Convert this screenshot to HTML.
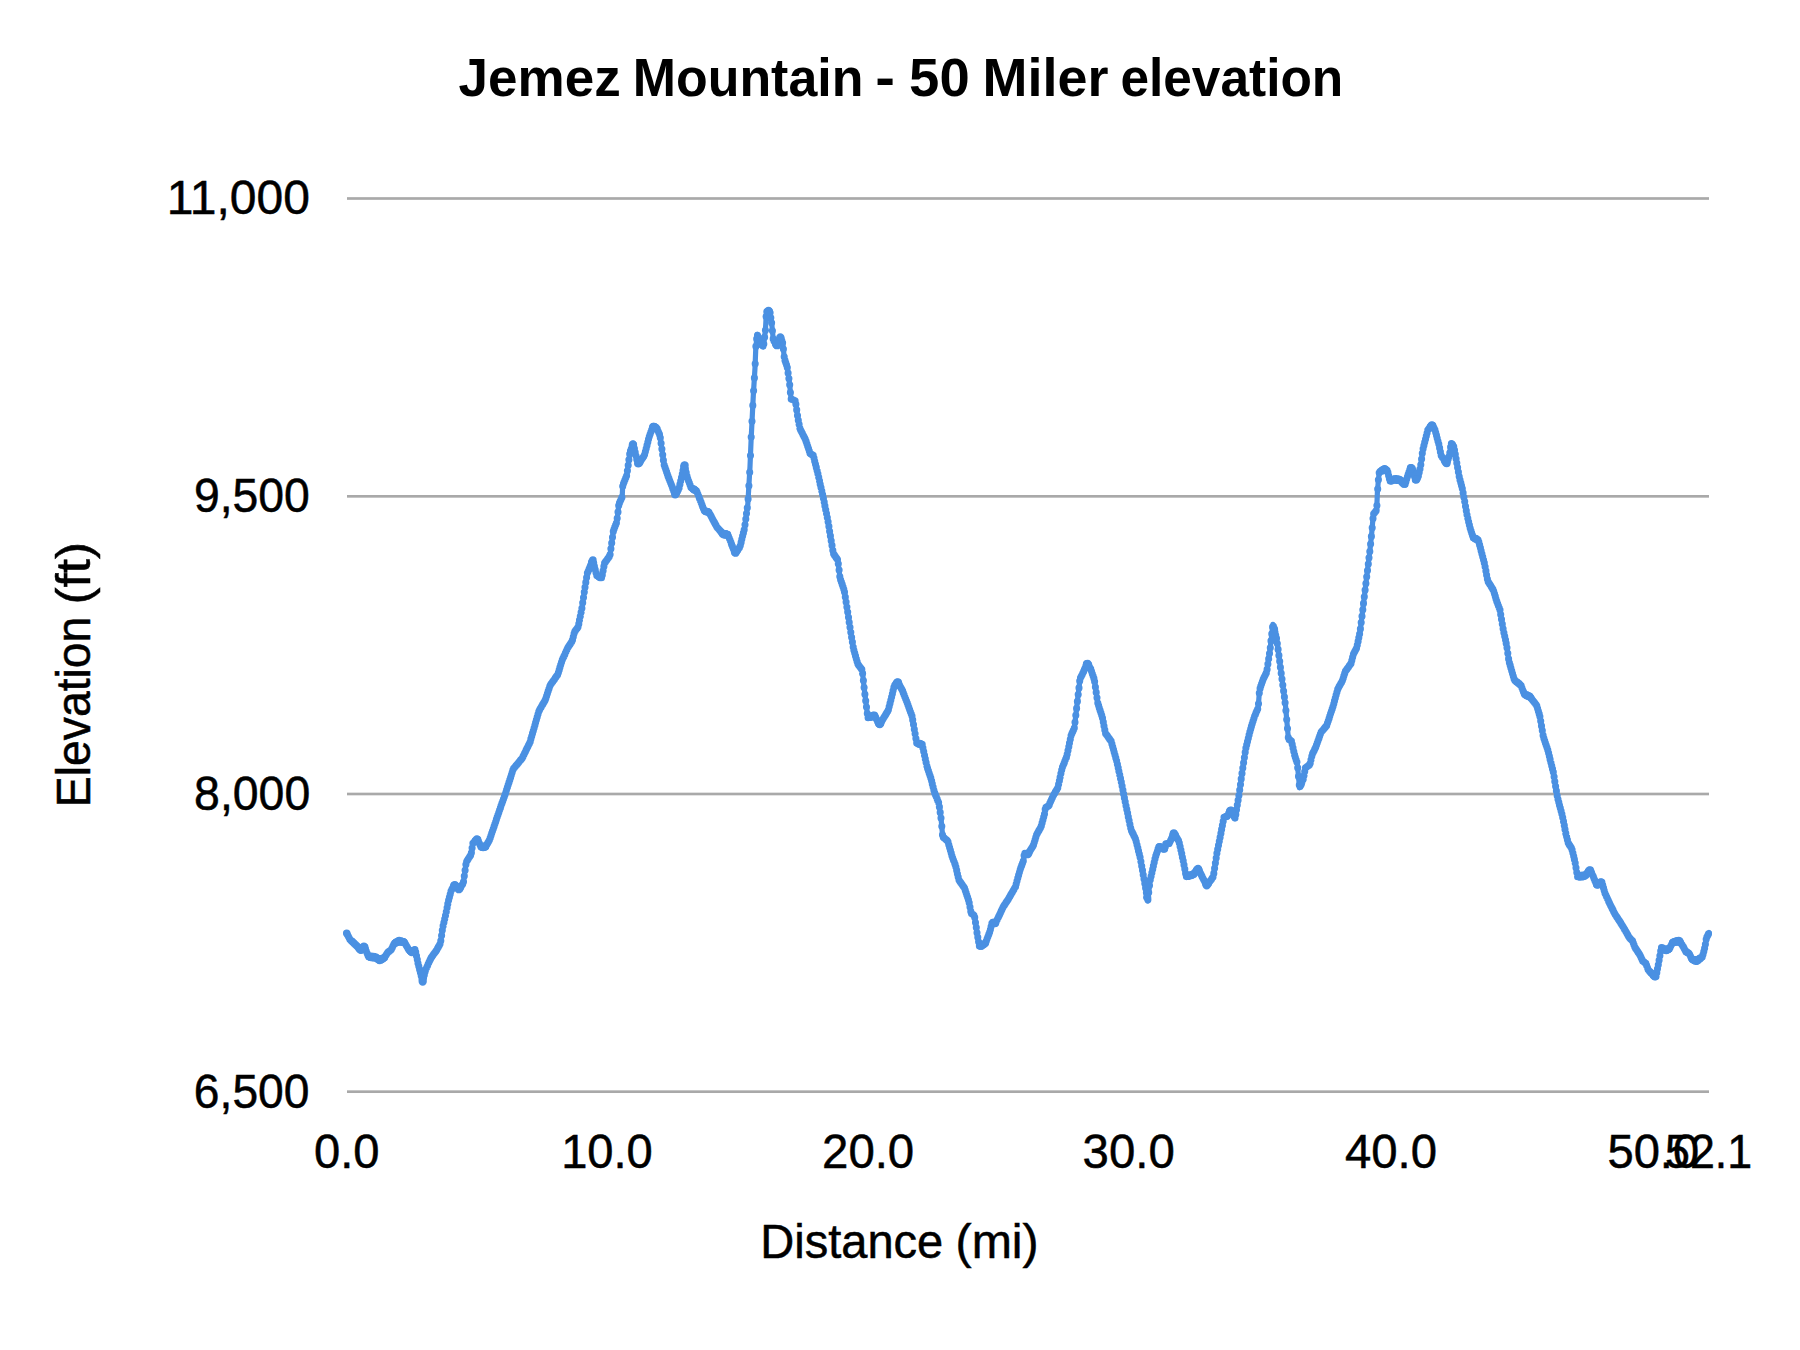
<!DOCTYPE html>
<html lang="en"><head><meta charset="utf-8"><title>Jemez Mountain - 50 Miler elevation</title>
<style>
html,body{margin:0;padding:0;background:#fff;}
body{width:1800px;height:1350px;overflow:hidden;}
svg{display:block;}
text{font-family:'Liberation Sans', Arial, sans-serif;fill:#000;font-size:47.2px;stroke:#000;stroke-width:0.5px;}
.title{font-size:54px;font-weight:bold;stroke:none;}
</style></head><body>
<svg width="1800" height="1350" viewBox="0 0 1800 1350">
<rect width="1800" height="1350" fill="#fff"/>
<text class="title" xml:space="preserve"><tspan x="458.52" y="95.8" textLength="162.29" lengthAdjust="spacingAndGlyphs">Jemez</tspan> <tspan x="632.83" y="95.8" textLength="230.52" lengthAdjust="spacingAndGlyphs">Mountain</tspan> <tspan x="875.21" y="95.8" textLength="19.70" lengthAdjust="spacingAndGlyphs">-</tspan> <tspan x="909.14" y="95.8" textLength="60.57" lengthAdjust="spacingAndGlyphs">50</tspan> <tspan x="982.55" y="95.8" textLength="125.87" lengthAdjust="spacingAndGlyphs">Miler</tspan> <tspan x="1120.40" y="95.8" textLength="222.82" lengthAdjust="spacingAndGlyphs">elevation</tspan></text>
<rect x="347" y="197.16" width="1362" height="2.67" fill="#a9a9a9"/>
<rect x="347" y="495.00" width="1362" height="2.67" fill="#a9a9a9"/>
<rect x="347" y="792.66" width="1362" height="2.67" fill="#a9a9a9"/>
<rect x="347" y="1090.34" width="1362" height="2.67" fill="#a9a9a9"/>
<text><tspan x="166.68" y="214.4" textLength="143.23" lengthAdjust="spacingAndGlyphs">11,000</tspan></text>
<text><tspan x="194.02" y="512.2" textLength="115.86" lengthAdjust="spacingAndGlyphs">9,500</tspan></text>
<text><tspan x="194.11" y="809.9" textLength="116.12" lengthAdjust="spacingAndGlyphs">8,000</tspan></text>
<text><tspan x="193.87" y="1107.6" textLength="115.58" lengthAdjust="spacingAndGlyphs">6,500</tspan></text>
<text><tspan x="313.93" y="1168.4" textLength="65.57" lengthAdjust="spacingAndGlyphs">0.0</tspan></text>
<text><tspan x="561.13" y="1168.4" textLength="91.65" lengthAdjust="spacingAndGlyphs">10.0</tspan></text>
<text><tspan x="822.06" y="1168.4" textLength="92.16" lengthAdjust="spacingAndGlyphs">20.0</tspan></text>
<text><tspan x="1082.61" y="1168.4" textLength="92.13" lengthAdjust="spacingAndGlyphs">30.0</tspan></text>
<text><tspan x="1345.03" y="1168.4" textLength="91.98" lengthAdjust="spacingAndGlyphs">40.0</tspan></text>
<text><tspan x="1607.42" y="1168.4" textLength="91.76" lengthAdjust="spacingAndGlyphs">50.0</tspan></text>
<text><tspan x="1665.04" y="1168.4" textLength="87.13" lengthAdjust="spacingAndGlyphs">52.1</tspan></text>
<text xml:space="preserve"><tspan x="760.30" y="1258.4" textLength="182.97" lengthAdjust="spacingAndGlyphs">Distance</tspan> <tspan x="955.60" y="1258.4" textLength="83.05" lengthAdjust="spacingAndGlyphs">(mi)</tspan></text>
<text xml:space="preserve" transform="translate(89.8,903.6) rotate(-90)"><tspan x="96.45" y="0" textLength="190.44" lengthAdjust="spacingAndGlyphs">Elevation</tspan> <tspan x="299.12" y="0" textLength="62.50" lengthAdjust="spacingAndGlyphs">(ft)</tspan></text>
<polyline points="346.7,933.3 350.0,939.5 361.1,950.0 364.4,946.2 368.4,956.7 375.5,957.3 379.5,960.0 384.4,957.8 387.8,952.2 391.0,950.0 394.4,943.3 398.9,941.1 404.4,942.2 408.9,950.0 412.2,952.2 415.1,949.3 417.8,962.2 422.7,981.8 425.5,970.0 431.1,957.8 436.7,950.0 440.4,943.3 442.7,927.8 445.5,915.5 448.4,901.1 451.1,890.7 454.4,884.9 458.9,889.3 463.3,883.3 466.2,862.2 471.1,854.4 472.9,843.3 477.3,838.9 481.1,847.1 485.5,846.7 489.3,840.4 494.4,825.5 500.0,808.9 505.5,793.3 513.3,768.9 522.2,758.2 530.0,742.2 538.9,711.1 545.5,699.5 550.0,685.5 557.8,674.4 562.2,660.0 567.8,647.8 572.2,641.1 574.4,632.2 578.2,626.7 581.8,608.9 584.4,591.1 587.3,573.3 592.9,560.0 596.7,575.5 601.8,577.8 604.4,563.3 610.0,555.5 613.3,531.1 616.7,522.2 618.9,504.4 622.2,496.7 622.7,485.5 626.7,475.5 630.0,452.2 633.3,443.3 637.8,464.4 644.4,455.5 648.9,437.8 652.8,426.4 656.7,427.8 660.0,435.5 664.0,464.4 667.8,475.5 675.1,494.6 678.9,488.9 684.4,464.4 687.1,476.7 691.1,487.8 696.7,491.1 704.4,511.1 708.9,512.2 716.7,526.7 723.3,534.4 727.8,534.4 735.1,553.3 740.0,546.7 744.4,528.9 747.8,504.4 750.0,466.7 751.1,440.0 752.2,417.8 753.3,395.5 755.0,367.8 755.8,347.8 757.2,334.4 760.0,342.2 763.5,346.7 765.5,328.9 766.4,311.6 769.8,311.0 771.7,323.3 773.3,340.0 777.2,345.5 780.5,336.7 782.8,343.3 784.4,358.9 787.2,366.7 789.4,382.2 791.1,398.9 795.5,401.1 797.8,417.8 800.0,428.9 805.5,439.5 810.0,453.3 813.3,455.5 817.8,473.3 823.3,497.8 827.8,520.0 833.3,553.3 837.8,560.0 840.0,577.8 844.4,591.1 848.9,620.0 853.3,648.0 857.8,664.0 862.2,670.0 864.4,690.0 867.8,717.8 874.4,715.5 879.5,724.4 884.4,716.7 888.4,710.0 894.4,685.5 897.8,682.2 902.2,690.0 907.8,704.4 912.2,716.7 916.7,743.3 922.2,744.4 926.7,765.5 931.1,778.9 934.4,792.2 938.9,803.3 941.1,818.9 942.7,836.7 947.8,841.1 952.2,856.7 955.5,865.5 958.9,880.0 964.4,887.8 968.9,901.1 971.1,913.3 974.4,915.5 977.3,934.4 979.5,946.7 985.5,943.3 990.0,931.1 992.2,922.2 995.5,923.3 1003.3,906.7 1007.8,900.0 1015.5,886.7 1020.0,870.0 1023.3,861.1 1024.4,853.3 1027.8,854.4 1033.3,845.5 1036.7,834.4 1041.1,826.7 1044.4,814.4 1045.5,807.8 1048.9,805.5 1053.3,795.5 1057.8,787.8 1062.2,767.8 1066.7,756.7 1071.1,735.5 1074.4,727.8 1077.8,697.8 1080.0,678.9 1083.3,672.2 1087.1,663.3 1090.7,668.9 1094.4,680.0 1097.8,703.3 1102.2,716.7 1105.5,733.3 1111.1,741.1 1116.7,761.1 1121.1,781.1 1125.5,803.3 1131.1,830.0 1135.5,838.9 1140.0,856.7 1144.4,881.1 1147.8,901.1 1150.0,881.1 1155.5,856.7 1158.9,846.7 1164.4,848.9 1166.0,844.0 1169.3,843.4 1173.8,833.3 1178.9,841.1 1183.3,861.1 1186.2,876.7 1193.3,874.4 1198.2,868.9 1203.3,878.9 1206.7,885.5 1213.3,876.7 1216.7,854.4 1221.1,832.2 1224.0,817.3 1227.6,816.0 1229.8,810.6 1232.3,811.0 1235.1,818.4 1238.9,795.5 1242.2,772.2 1245.5,750.0 1250.0,731.1 1254.4,716.7 1258.2,707.8 1259.5,690.0 1263.3,678.9 1266.7,672.2 1270.0,650.0 1272.9,624.4 1276.7,638.9 1281.1,672.2 1285.5,705.5 1288.4,738.9 1291.5,741.1 1294.4,754.4 1297.3,763.3 1299.5,787.8 1303.3,778.9 1305.5,767.8 1310.0,764.4 1312.2,754.4 1315.5,747.8 1321.1,732.2 1326.7,725.5 1333.3,705.5 1337.8,688.9 1342.2,681.1 1345.5,671.1 1351.1,663.3 1353.3,654.4 1356.7,647.8 1360.0,632.2 1363.3,605.5 1366.7,576.7 1370.0,550.0 1371.7,533.3 1373.3,514.4 1376.7,510.0 1377.4,492.2 1378.3,481.1 1379.3,472.0 1384.6,469.2 1387.4,470.6 1390.0,481.1 1394.4,479.4 1400.0,480.0 1405.0,484.5 1407.8,475.5 1410.5,467.8 1412.6,468.8 1415.5,480.5 1418.3,476.7 1420.5,466.7 1422.8,450.0 1425.0,441.1 1427.8,430.0 1432.2,425.0 1435.0,430.0 1438.9,444.4 1441.1,455.5 1444.4,460.0 1446.7,463.3 1449.4,455.5 1451.1,443.3 1453.9,446.7 1456.7,462.2 1459.4,477.8 1462.2,487.8 1464.4,500.0 1466.7,513.3 1470.0,527.8 1473.3,537.8 1478.3,540.0 1480.8,549.5 1484.4,563.3 1487.8,581.1 1493.3,590.0 1496.7,601.1 1500.0,610.0 1503.3,630.0 1506.7,645.5 1508.9,661.1 1514.4,680.0 1521.1,685.5 1524.4,694.4 1530.0,696.7 1536.7,705.5 1540.0,716.7 1543.3,736.7 1547.8,750.0 1553.3,772.2 1557.5,797.5 1562.3,815.5 1565.8,833.3 1568.3,843.3 1571.7,848.3 1575.0,861.7 1577.5,876.7 1585.0,875.8 1590.0,870.0 1593.3,876.7 1596.7,885.0 1601.7,881.7 1605.0,893.3 1610.0,904.2 1615.0,914.2 1620.0,921.7 1625.0,930.0 1629.2,937.5 1632.5,940.8 1635.0,947.5 1640.0,955.0 1642.5,960.8 1645.8,963.3 1648.3,970.0 1655.8,977.5 1658.3,965.0 1661.3,947.5 1665.0,950.0 1669.2,949.2 1672.5,942.5 1679.2,940.8 1683.3,946.7 1685.8,951.7 1689.2,953.3 1691.7,959.2 1696.7,960.8 1702.5,956.7 1705.0,946.7 1706.3,938.3 1709.2,932.5" fill="none" stroke="#4a90e2" stroke-width="5.2" stroke-linejoin="round" stroke-linecap="round"/>
<path d="M347.5,934.8h0M348.3,936.2h0M349.1,937.7h0M349.8,939.2h0M350.6,940.1h0M351.4,940.8h0M365.5,949.1h0M366.3,951.2h0M367.1,953.2h0M367.9,955.3h0M368.7,956.7h0M385.1,956.6h0M385.9,955.3h0M386.7,954.0h0M387.5,952.7h0M388.3,951.9h0M389.0,951.4h0M389.8,950.8h0M390.6,950.3h0M391.4,949.2h0M392.2,947.7h0M393.0,946.1h0M393.7,944.6h0M394.5,943.2h0M404.7,942.7h0M405.5,944.1h0M406.3,945.5h0M407.1,946.8h0M407.9,948.2h0M408.6,949.5h0M409.4,950.3h0M414.9,949.5h0M415.7,952.1h0M416.5,955.9h0M417.3,959.6h0M418.0,963.2h0M418.8,966.3h0M419.6,969.4h0M420.4,972.6h0M421.2,975.7h0M422.0,978.9h0M423.5,978.3h0M424.3,975.0h0M425.1,971.7h0M425.9,969.2h0M426.7,967.5h0M427.5,965.7h0M428.2,964.0h0M429.0,962.3h0M429.8,960.6h0M430.6,958.9h0M431.4,957.4h0M432.2,956.3h0M432.9,955.2h0M433.7,954.1h0M434.5,953.1h0M435.3,952.0h0M436.1,950.9h0M436.9,949.7h0M437.6,948.3h0M438.4,946.9h0M439.2,945.5h0M440.0,944.0h0M440.8,940.7h0M441.6,935.5h0M442.3,930.2h0M443.1,925.9h0M443.9,922.5h0M444.7,919.0h0M445.5,915.6h0M446.3,911.7h0M447.1,907.8h0M447.8,903.9h0M448.6,900.3h0M449.4,897.2h0M450.2,894.2h0M451.0,891.2h0M451.8,889.5h0M452.5,888.2h0M453.3,886.8h0M461.2,886.2h0M461.9,885.1h0M462.7,884.1h0M463.5,881.7h0M464.3,876.0h0M465.1,870.3h0M465.9,864.6h0M466.7,861.5h0M467.4,860.2h0M468.2,859.0h0M469.0,857.7h0M469.8,856.5h0M470.6,855.2h0M471.4,852.8h0M472.1,848.0h0M472.9,843.3h0M473.7,842.5h0M474.5,841.7h0M478.4,841.3h0M479.2,843.0h0M480.0,844.7h0M480.8,846.4h0M486.3,845.5h0M487.0,844.2h0M487.8,842.9h0M488.6,841.6h0M489.4,840.1h0M490.2,837.9h0M491.0,835.6h0M491.7,833.3h0M492.5,831.0h0M493.3,828.7h0M494.1,826.4h0M494.9,824.1h0M495.7,821.8h0M496.4,819.4h0M497.2,817.1h0M498.0,814.8h0M498.8,812.5h0M499.6,810.1h0M500.4,807.9h0M501.1,805.6h0M501.9,803.4h0M502.7,801.2h0M503.5,799.0h0M504.3,796.7h0M505.1,794.5h0M505.9,792.2h0M506.6,789.7h0M507.4,787.3h0M508.2,784.8h0M509.0,782.4h0M509.8,779.9h0M510.6,777.5h0M511.3,775.0h0M512.1,772.6h0M512.9,770.1h0M513.7,768.4h0M514.5,767.5h0M515.3,766.5h0M516.0,765.6h0M516.8,764.7h0M517.6,763.7h0M518.4,762.8h0M519.2,761.8h0M520.0,760.9h0M520.7,759.9h0M521.5,759.0h0M522.3,758.0h0M523.1,756.4h0M523.9,754.7h0M524.7,753.1h0M525.5,751.5h0M526.2,749.9h0M527.0,748.3h0M527.8,746.7h0M528.6,745.1h0M529.4,743.5h0M530.2,741.7h0M530.9,738.9h0M531.7,736.2h0M532.5,733.4h0M533.3,730.7h0M534.1,728.0h0M534.9,725.2h0M535.6,722.5h0M536.4,719.7h0M537.2,717.0h0M538.0,714.3h0M538.8,711.5h0M539.6,709.9h0M540.3,708.6h0M541.1,707.2h0M541.9,705.8h0M542.7,704.4h0M543.5,703.0h0M544.3,701.7h0M545.1,700.3h0M545.8,698.5h0M546.6,696.0h0M547.4,693.6h0M548.2,691.1h0M549.0,688.7h0M549.8,686.3h0M550.5,684.7h0M551.3,683.6h0M552.1,682.5h0M552.9,681.4h0M553.7,680.3h0M554.5,679.2h0M555.2,678.0h0M556.0,676.9h0M556.8,675.8h0M557.6,674.7h0M558.4,672.5h0M559.2,669.9h0M559.9,667.4h0M560.7,664.8h0M561.5,662.2h0M562.3,659.8h0M563.1,658.1h0M563.9,656.4h0M564.7,654.7h0M565.4,653.0h0M566.2,651.2h0M567.0,649.5h0M567.8,647.8h0M568.6,646.6h0M569.4,645.4h0M570.1,644.2h0M570.9,643.0h0M571.7,641.8h0M572.5,639.9h0M573.3,636.7h0M574.1,633.6h0M574.8,631.6h0M575.6,630.4h0M576.4,629.3h0M577.2,628.2h0M578.0,627.0h0M578.8,623.9h0M579.5,620.0h0M580.3,616.2h0M581.1,612.3h0M581.9,608.2h0M582.7,602.8h0M583.5,597.5h0M584.3,592.1h0M585.0,587.2h0M585.8,582.4h0M586.6,577.6h0M587.4,573.1h0M588.2,571.2h0M589.0,569.4h0M589.7,567.5h0M590.5,565.6h0M591.3,563.8h0M593.7,563.1h0M594.4,566.3h0M595.2,569.5h0M596.0,572.7h0M596.8,575.5h0M597.6,575.9h0M598.4,576.3h0M600.7,577.3h0M601.5,577.7h0M602.3,575.1h0M603.1,570.7h0M603.9,566.4h0M604.6,563.0h0M605.4,561.9h0M606.2,560.8h0M607.0,559.7h0M607.8,558.6h0M608.6,557.5h0M609.3,556.4h0M610.1,554.6h0M610.9,548.8h0M611.7,543.0h0M612.5,537.2h0M613.3,531.4h0M614.0,529.2h0M614.8,527.1h0M615.6,525.0h0M616.4,523.0h0M617.2,518.3h0M618.0,512.0h0M618.7,505.6h0M619.5,502.9h0M620.3,501.1h0M621.1,499.3h0M621.9,497.4h0M622.7,486.2h0M623.5,483.6h0M624.2,481.7h0M625.0,479.7h0M625.8,477.7h0M626.6,475.8h0M627.4,470.8h0M628.2,465.2h0M628.9,459.7h0M629.7,454.1h0M630.5,450.8h0M631.3,448.7h0M632.1,446.6h0M633.6,444.9h0M634.4,448.6h0M635.2,452.3h0M636.0,455.9h0M636.8,459.6h0M637.6,463.3h0M640.7,460.5h0M641.5,459.4h0M642.3,458.4h0M643.1,457.3h0M643.8,456.3h0M644.6,454.6h0M645.4,451.6h0M646.2,448.5h0M647.0,445.4h0M647.8,442.3h0M648.5,439.2h0M649.3,436.6h0M650.1,434.3h0M650.9,432.0h0M651.7,429.7h0M652.5,427.4h0M656.4,427.7h0M657.2,428.9h0M657.9,430.7h0M658.7,432.5h0M659.5,434.4h0M660.3,437.7h0M661.1,443.3h0M661.9,449.0h0M662.7,454.7h0M663.4,460.3h0M664.2,465.0h0M665.0,467.3h0M665.8,469.6h0M666.6,471.9h0M667.4,474.2h0M668.1,476.4h0M668.9,478.4h0M669.7,480.5h0M670.5,482.5h0M671.3,484.6h0M672.1,486.6h0M672.8,488.7h0M673.6,490.7h0M674.4,492.8h0M677.5,490.9h0M678.3,489.8h0M679.1,487.9h0M679.9,484.4h0M680.7,481.0h0M681.5,477.5h0M682.3,474.0h0M683.0,470.5h0M685.4,468.9h0M686.2,472.5h0M687.0,476.0h0M687.7,478.5h0M688.5,480.7h0M689.3,482.8h0M690.1,485.0h0M690.9,487.2h0M691.7,488.1h0M692.4,488.6h0M695.6,490.4h0M696.4,490.9h0M697.1,492.3h0M697.9,494.3h0M698.7,496.3h0M699.5,498.4h0M700.3,500.4h0M701.1,502.4h0M701.9,504.5h0M702.6,506.5h0M703.4,508.6h0M704.2,510.6h0M705.0,511.2h0M708.9,512.2h0M709.7,513.7h0M710.5,515.1h0M711.3,516.6h0M712.0,518.0h0M712.8,519.5h0M713.6,521.0h0M714.4,522.4h0M715.2,523.9h0M716.0,525.3h0M716.7,526.8h0M717.5,527.7h0M718.3,528.6h0M719.1,529.5h0M719.9,530.4h0M720.7,531.3h0M727.7,534.4h0M728.5,536.2h0M729.3,538.3h0M730.1,540.3h0M730.9,542.3h0M731.6,544.4h0M732.4,546.4h0M733.2,548.4h0M734.0,550.4h0M737.9,549.5h0M738.7,548.5h0M739.5,547.4h0M740.3,545.6h0M741.1,542.4h0M741.8,539.3h0M742.6,536.1h0M743.4,532.9h0M744.2,529.8h0M745.0,524.8h0M745.8,519.1h0M746.5,513.5h0M747.3,507.8h0M748.1,499.1h0M748.9,485.7h0M749.7,472.3h0M750.5,455.5h0M751.2,437.1h0M752.0,421.3h0M752.8,405.4h0M753.6,390.7h0M754.4,377.9h0M755.2,363.7h0M755.9,346.4h0M756.7,338.9h0M757.5,335.3h0M759.9,341.8h0M760.7,343.0h0M762.2,345.1h0M763.0,346.1h0M763.8,344.1h0M764.6,337.2h0M765.4,330.2h0M766.1,316.6h0M766.9,311.5h0M767.7,311.4h0M769.3,311.1h0M770.1,312.7h0M770.8,317.8h0M771.6,322.8h0M772.4,330.7h0M773.2,338.9h0M774.0,341.0h0M774.8,342.1h0M775.5,343.2h0M777.9,343.6h0M778.7,341.5h0M781.0,338.2h0M781.8,340.5h0M782.6,342.7h0M783.4,349.0h0M784.2,356.7h0M785.0,360.4h0M785.7,362.6h0M786.5,364.8h0M787.3,367.5h0M788.1,373.0h0M788.9,378.5h0M789.7,384.8h0M790.4,392.5h0M791.2,399.0h0M792.0,399.4h0M792.8,399.7h0M793.6,400.1h0M794.4,400.5h0M795.1,400.9h0M795.9,404.2h0M796.7,409.9h0M797.5,415.6h0M798.3,420.2h0M799.1,424.2h0M799.9,428.2h0M800.6,430.1h0M801.4,431.6h0M802.2,433.1h0M803.0,434.7h0M803.8,436.2h0M804.6,437.7h0M805.3,439.2h0M806.1,441.4h0M806.9,443.8h0M807.7,446.2h0M808.5,448.6h0M809.3,451.0h0M810.0,453.3h0M810.8,453.9h0M811.6,454.4h0M812.4,454.9h0M813.2,455.4h0M814.0,458.1h0M814.7,461.2h0M815.5,464.3h0M816.3,467.4h0M817.1,470.5h0M817.9,473.7h0M818.7,477.2h0M819.5,480.7h0M820.2,484.2h0M821.0,487.6h0M821.8,491.1h0M822.6,494.6h0M823.4,498.2h0M824.2,502.0h0M824.9,505.9h0M825.7,509.8h0M826.5,513.6h0M827.3,517.5h0M828.1,521.7h0M828.9,526.4h0M829.6,531.2h0M830.4,535.9h0M831.2,540.7h0M832.0,545.4h0M832.8,550.2h0M833.6,553.7h0M834.3,554.9h0M835.1,556.0h0M835.9,557.2h0M836.7,558.4h0M837.5,559.5h0M838.3,563.8h0M839.1,570.1h0M839.8,576.5h0M840.6,579.7h0M841.4,582.0h0M842.2,584.4h0M843.0,586.8h0M843.8,589.2h0M844.5,592.0h0M845.3,597.0h0M846.1,602.1h0M846.9,607.1h0M847.7,612.1h0M848.5,617.2h0M849.2,622.2h0M850.0,627.2h0M850.8,632.2h0M851.6,637.2h0M852.4,642.1h0M853.2,647.1h0M853.9,650.3h0M854.7,653.1h0M855.5,655.9h0M856.3,658.7h0M857.1,661.5h0M857.9,664.1h0M858.7,665.2h0M859.4,666.2h0M860.2,667.3h0M861.0,668.4h0M861.8,669.4h0M862.6,673.4h0M863.4,680.5h0M864.1,687.6h0M864.9,694.3h0M865.7,700.7h0M866.5,707.1h0M867.3,713.5h0M868.1,717.7h0M868.8,717.4h0M875.9,718.1h0M876.7,719.5h0M877.5,720.9h0M881.4,721.4h0M882.2,720.2h0M883.0,719.0h0M883.7,717.7h0M884.5,716.5h0M885.3,715.2h0M886.1,713.9h0M886.9,712.6h0M887.7,711.2h0M888.4,709.8h0M889.2,706.6h0M890.0,703.4h0M890.8,700.2h0M891.6,697.0h0M892.4,693.8h0M893.1,690.6h0M893.9,687.4h0M894.7,685.2h0M895.5,684.4h0M899.4,685.1h0M900.2,686.5h0M901.0,687.9h0M901.8,689.2h0M902.6,690.9h0M903.3,692.9h0M904.1,694.9h0M904.9,697.0h0M905.7,699.0h0M906.5,701.0h0M907.3,703.0h0M908.0,705.1h0M908.8,707.3h0M909.6,709.5h0M910.4,711.7h0M911.2,713.8h0M912.0,716.0h0M912.7,719.9h0M913.5,724.6h0M914.3,729.2h0M915.1,733.8h0M915.9,738.5h0M916.7,743.1h0M917.5,743.5h0M918.2,743.6h0M921.4,744.2h0M922.2,744.4h0M922.9,747.9h0M923.7,751.5h0M924.5,755.2h0M925.3,758.9h0M926.1,762.6h0M926.9,766.0h0M927.6,768.4h0M928.4,770.8h0M929.2,773.2h0M930.0,775.5h0M930.8,777.9h0M931.6,780.8h0M932.3,783.9h0M933.1,787.1h0M933.9,790.2h0M934.7,792.9h0M935.5,794.9h0M936.3,796.8h0M937.1,798.7h0M937.8,800.7h0M938.6,802.6h0M939.4,806.9h0M940.2,812.4h0M941.0,818.0h0M941.8,826.2h0M942.5,834.9h0M943.3,837.2h0M944.1,837.9h0M944.9,838.6h0M945.7,839.3h0M946.5,839.9h0M947.2,840.6h0M948.0,841.9h0M948.8,844.7h0M949.6,847.5h0M950.4,850.2h0M951.2,853.0h0M951.9,855.8h0M952.7,858.1h0M953.5,860.2h0M954.3,862.3h0M955.1,864.4h0M955.9,867.1h0M956.7,870.4h0M957.4,873.8h0M958.2,877.1h0M959.0,880.1h0M959.8,881.3h0M960.6,882.4h0M961.4,883.5h0M962.1,884.6h0M962.9,885.7h0M963.7,886.8h0M964.5,888.1h0M965.3,890.4h0M966.1,892.7h0M966.8,895.0h0M967.6,897.3h0M968.4,899.7h0M969.2,902.7h0M970.0,907.1h0M970.8,911.4h0M971.5,913.6h0M972.3,914.1h0M973.1,914.6h0M973.9,915.2h0M974.7,917.4h0M975.5,922.5h0M976.3,927.6h0M977.0,932.7h0M977.8,937.3h0M978.6,941.7h0M979.4,946.1h0M980.2,946.3h0M984.9,943.7h0M985.7,942.9h0M986.4,940.7h0M987.2,938.6h0M988.0,936.5h0M988.8,934.4h0M989.6,932.2h0M990.4,929.6h0M991.1,926.5h0M991.9,923.3h0M992.7,922.4h0M995.9,922.6h0M996.6,920.9h0M997.4,919.2h0M998.2,917.5h0M999.0,915.9h0M999.8,914.2h0M1000.6,912.5h0M1001.3,910.9h0M1002.1,909.2h0M1002.9,907.5h0M1003.7,906.1h0M1004.5,904.9h0M1005.3,903.8h0M1006.0,902.6h0M1006.8,901.4h0M1007.6,900.3h0M1008.4,899.0h0M1009.2,897.6h0M1010.0,896.3h0M1010.7,894.9h0M1011.5,893.6h0M1012.3,892.2h0M1013.1,890.8h0M1013.9,889.5h0M1014.7,888.1h0M1015.5,886.8h0M1016.2,884.0h0M1017.0,881.1h0M1017.8,878.1h0M1018.6,875.2h0M1019.4,872.3h0M1020.2,869.6h0M1020.9,867.5h0M1021.7,865.4h0M1022.5,863.2h0M1023.3,861.1h0M1024.1,855.6h0M1024.9,853.4h0M1025.6,853.7h0M1029.6,851.5h0M1030.3,850.3h0M1031.1,849.0h0M1031.9,847.7h0M1032.7,846.5h0M1033.5,844.9h0M1034.3,842.3h0M1035.1,839.8h0M1035.8,837.2h0M1036.6,834.7h0M1037.4,833.2h0M1038.2,831.8h0M1039.0,830.4h0M1039.8,829.1h0M1040.5,827.7h0M1041.3,825.9h0M1042.1,822.9h0M1042.9,820.0h0M1043.7,817.1h0M1044.5,814.0h0M1045.2,809.3h0M1046.0,807.4h0M1046.8,806.9h0M1047.6,806.4h0M1048.4,805.9h0M1049.2,804.9h0M1049.9,803.1h0M1050.7,801.3h0M1051.5,799.6h0M1052.3,797.8h0M1053.1,796.0h0M1053.9,794.5h0M1054.7,793.2h0M1055.4,791.8h0M1056.2,790.5h0M1057.0,789.2h0M1057.8,787.8h0M1058.6,784.3h0M1059.4,780.7h0M1060.1,777.2h0M1060.9,773.6h0M1061.7,770.0h0M1062.5,767.1h0M1063.3,765.1h0M1064.1,763.2h0M1064.8,761.3h0M1065.6,759.3h0M1066.4,757.4h0M1067.2,754.3h0M1068.0,750.5h0M1068.8,746.8h0M1069.5,743.0h0M1070.3,739.2h0M1071.1,735.5h0M1071.9,733.6h0M1072.7,731.8h0M1073.5,730.0h0M1074.3,728.1h0M1075.0,722.2h0M1075.8,715.3h0M1076.6,708.4h0M1077.4,701.4h0M1078.2,694.6h0M1079.0,687.9h0M1079.7,681.1h0M1080.5,677.8h0M1081.3,676.2h0M1082.1,674.7h0M1082.9,673.1h0M1083.7,671.4h0M1084.4,669.5h0M1085.2,667.7h0M1086.0,665.8h0M1089.1,666.5h0M1089.9,667.7h0M1090.7,668.9h0M1091.5,671.3h0M1092.3,673.7h0M1093.1,676.0h0M1093.9,678.4h0M1094.6,681.6h0M1095.4,687.0h0M1096.2,692.4h0M1097.0,697.7h0M1097.8,703.1h0M1098.6,705.6h0M1099.3,708.0h0M1100.1,710.4h0M1100.9,712.8h0M1101.7,715.2h0M1102.5,718.1h0M1103.3,722.0h0M1104.0,726.0h0M1104.8,729.9h0M1105.6,733.5h0M1106.4,734.5h0M1107.2,735.6h0M1108.0,736.7h0M1108.7,737.8h0M1109.5,738.9h0M1110.3,740.0h0M1111.1,741.1h0M1111.9,743.9h0M1112.7,746.7h0M1113.5,749.5h0M1114.2,752.3h0M1115.0,755.1h0M1115.8,757.9h0M1116.6,760.7h0M1117.4,764.2h0M1118.2,767.7h0M1118.9,771.3h0M1119.7,774.8h0M1120.5,778.4h0M1121.3,782.1h0M1122.1,786.0h0M1122.9,790.0h0M1123.6,793.9h0M1124.4,797.9h0M1125.2,801.8h0M1126.0,805.7h0M1126.8,809.4h0M1127.6,813.1h0M1128.3,816.9h0M1129.1,820.6h0M1129.9,824.4h0M1130.7,828.1h0M1131.5,830.8h0M1132.3,832.4h0M1133.1,833.9h0M1133.8,835.5h0M1134.6,837.1h0M1135.4,838.7h0M1136.2,841.6h0M1137.0,844.7h0M1137.8,847.8h0M1138.5,850.9h0M1139.3,854.0h0M1140.1,857.3h0M1140.9,861.6h0M1141.7,866.0h0M1142.5,870.3h0M1143.2,874.7h0M1144.0,879.0h0M1144.8,883.5h0M1145.6,888.1h0M1146.4,892.7h0M1147.9,899.8h0M1148.7,892.6h0M1149.5,885.5h0M1150.3,879.8h0M1151.1,876.3h0M1151.9,872.8h0M1152.7,869.3h0M1153.4,865.9h0M1154.2,862.4h0M1155.0,858.9h0M1155.8,855.9h0M1156.6,853.5h0M1157.4,851.2h0M1158.1,848.9h0M1158.9,846.7h0M1166.8,843.9h0M1169.1,843.4h0M1169.9,842.1h0M1170.7,840.3h0M1171.5,838.5h0M1172.3,836.8h0M1176.2,836.9h0M1177.0,838.1h0M1177.7,839.3h0M1178.5,840.5h0M1179.3,843.0h0M1180.1,846.5h0M1180.9,850.1h0M1181.7,853.6h0M1182.4,857.2h0M1183.2,860.8h0M1184.0,864.9h0M1184.8,869.1h0M1185.6,873.4h0M1186.4,876.6h0M1187.1,876.4h0M1195.8,871.6h0M1199.7,871.8h0M1200.5,873.4h0M1201.3,874.9h0M1202.0,876.4h0M1202.8,878.0h0M1203.6,879.5h0M1204.4,881.0h0M1205.2,882.5h0M1209.1,882.3h0M1209.9,881.3h0M1210.7,880.2h0M1211.5,879.2h0M1212.2,878.1h0M1213.0,877.1h0M1213.8,873.4h0M1214.6,868.3h0M1215.4,863.1h0M1216.2,858.0h0M1216.9,853.2h0M1217.7,849.2h0M1218.5,845.3h0M1219.3,841.3h0M1220.1,837.4h0M1220.9,833.4h0M1221.6,829.4h0M1222.4,825.4h0M1223.2,821.3h0M1224.0,817.3h0M1224.8,817.0h0M1225.6,816.7h0M1227.1,816.2h0M1227.9,815.2h0M1228.7,813.3h0M1229.5,811.4h0M1232.6,811.8h0M1235.0,818.1h0M1235.8,814.4h0M1236.5,809.7h0M1237.3,805.0h0M1238.1,800.3h0M1238.9,795.5h0M1239.7,790.0h0M1240.5,784.5h0M1241.2,778.9h0M1242.0,773.4h0M1242.8,768.1h0M1243.6,762.8h0M1244.4,757.5h0M1245.2,752.3h0M1245.9,748.1h0M1246.7,744.8h0M1247.5,741.5h0M1248.3,738.2h0M1249.1,734.9h0M1249.9,731.7h0M1250.7,729.0h0M1251.4,726.4h0M1252.2,723.8h0M1253.0,721.3h0M1253.8,718.7h0M1254.6,716.3h0M1255.4,714.5h0M1256.1,712.6h0M1256.9,710.8h0M1257.7,709.0h0M1258.5,703.8h0M1259.3,693.1h0M1260.1,688.4h0M1260.8,686.1h0M1261.6,683.8h0M1262.4,681.5h0M1263.2,679.2h0M1264.0,677.6h0M1264.8,676.0h0M1265.5,674.5h0M1266.3,672.9h0M1267.1,669.4h0M1267.9,664.1h0M1268.7,658.9h0M1269.5,653.6h0M1270.3,647.8h0M1271.0,640.9h0M1271.8,633.9h0M1272.6,627.0h0M1273.4,626.3h0M1275.0,632.2h0M1275.7,635.2h0M1276.5,638.2h0M1277.3,643.5h0M1278.1,649.4h0M1278.9,655.4h0M1279.7,661.3h0M1280.4,667.2h0M1281.2,673.2h0M1282.0,679.1h0M1282.8,685.0h0M1283.6,691.0h0M1284.4,696.9h0M1285.1,702.8h0M1285.9,710.5h0M1286.7,719.5h0M1287.5,728.5h0M1288.3,737.6h0M1289.1,739.4h0M1289.9,739.9h0M1290.6,740.5h0M1291.4,741.0h0M1292.2,744.3h0M1293.0,747.9h0M1293.8,751.5h0M1294.6,754.9h0M1295.3,757.3h0M1296.1,759.7h0M1296.9,762.1h0M1297.7,767.7h0M1298.5,776.4h0M1299.3,785.1h0M1300.0,786.5h0M1301.6,782.9h0M1302.4,781.0h0M1303.2,779.2h0M1304.0,775.5h0M1304.7,771.6h0M1305.5,767.8h0M1306.3,767.2h0M1307.1,766.6h0M1307.9,766.0h0M1308.7,765.4h0M1309.5,764.8h0M1310.2,763.3h0M1311.0,759.8h0M1311.8,756.2h0M1312.6,753.6h0M1313.4,752.1h0M1314.2,750.5h0M1314.9,748.9h0M1315.7,747.2h0M1316.5,745.0h0M1317.3,742.8h0M1318.1,740.6h0M1318.9,738.4h0M1319.6,736.3h0M1320.4,734.1h0M1321.2,732.1h0M1322.0,731.1h0M1322.8,730.2h0M1323.6,729.3h0M1324.3,728.3h0M1325.1,727.4h0M1325.9,726.4h0M1326.7,725.5h0M1327.5,723.1h0M1328.3,720.7h0M1329.1,718.4h0M1329.8,716.0h0M1330.6,713.6h0M1331.4,711.2h0M1332.2,708.9h0M1333.0,706.5h0M1333.8,703.8h0M1334.5,700.9h0M1335.3,698.0h0M1336.1,695.1h0M1336.9,692.2h0M1337.7,689.4h0M1338.5,687.7h0M1339.2,686.3h0M1340.0,685.0h0M1340.8,683.6h0M1341.6,682.2h0M1342.4,680.6h0M1343.2,678.2h0M1343.9,675.8h0M1344.7,673.4h0M1345.5,671.1h0M1346.3,670.0h0M1347.1,668.9h0M1347.9,667.8h0M1348.7,666.7h0M1349.4,665.6h0M1350.2,664.5h0M1351.0,663.4h0M1351.8,660.5h0M1352.6,657.3h0M1353.4,654.3h0M1354.1,652.8h0M1354.9,651.2h0M1355.7,649.7h0M1356.5,648.2h0M1357.3,645.1h0M1358.1,641.4h0M1358.8,637.7h0M1359.6,634.0h0M1360.4,628.9h0M1361.2,622.5h0M1362.0,616.2h0M1362.8,609.8h0M1363.5,603.4h0M1364.3,596.8h0M1365.1,590.1h0M1365.9,583.5h0M1366.7,576.8h0M1367.5,570.5h0M1368.3,564.1h0M1369.0,557.8h0M1369.8,551.5h0M1370.6,544.1h0M1371.4,536.4h0M1372.2,527.7h0M1373.0,518.5h0M1373.7,513.8h0M1374.5,512.8h0M1375.3,511.8h0M1376.1,510.8h0M1376.9,505.5h0M1377.7,489.0h0M1378.4,479.8h0M1379.2,472.7h0M1380.0,471.6h0M1380.8,471.2h0M1386.3,470.0h0M1387.1,470.4h0M1387.9,472.4h0M1388.6,475.6h0M1389.4,478.8h0M1390.2,481.0h0M1405.1,484.2h0M1405.9,481.7h0M1406.7,479.1h0M1407.5,476.6h0M1408.2,474.3h0M1409.0,472.0h0M1409.8,469.8h0M1412.2,468.6h0M1412.9,470.2h0M1413.7,473.3h0M1414.5,476.5h0M1415.3,479.7h0M1417.6,477.6h0M1418.4,476.1h0M1419.2,472.6h0M1420.0,469.0h0M1420.8,464.7h0M1421.6,459.0h0M1422.3,453.3h0M1423.1,448.7h0M1423.9,445.5h0M1424.7,442.3h0M1425.5,439.2h0M1426.3,436.1h0M1427.1,433.0h0M1427.8,430.0h0M1428.6,429.1h0M1429.4,428.2h0M1433.3,427.0h0M1434.1,428.4h0M1434.9,429.8h0M1435.7,432.5h0M1436.5,435.4h0M1437.2,438.3h0M1438.0,441.2h0M1438.8,444.1h0M1439.6,447.9h0M1440.4,451.9h0M1441.2,455.6h0M1441.9,456.7h0M1442.7,457.7h0M1443.5,458.8h0M1444.3,459.9h0M1447.4,461.2h0M1448.2,458.9h0M1449.0,456.6h0M1449.8,452.7h0M1450.6,447.1h0M1451.4,443.6h0M1452.9,445.5h0M1453.7,446.5h0M1454.5,450.0h0M1455.3,454.3h0M1456.1,458.7h0M1456.8,463.0h0M1457.6,467.6h0M1458.4,472.1h0M1459.2,476.6h0M1460.0,479.9h0M1460.8,482.7h0M1461.5,485.5h0M1462.3,488.5h0M1463.1,492.9h0M1463.9,497.2h0M1464.7,501.6h0M1465.5,506.2h0M1466.3,510.7h0M1467.0,514.8h0M1467.8,518.2h0M1468.6,521.7h0M1469.4,525.1h0M1470.2,528.3h0M1471.0,530.7h0M1471.7,533.1h0M1472.5,535.4h0M1473.3,537.8h0M1474.1,538.1h0M1477.2,539.5h0M1478.0,539.9h0M1478.8,541.9h0M1479.6,544.9h0M1480.4,547.8h0M1481.1,550.8h0M1481.9,553.8h0M1482.7,556.8h0M1483.5,559.8h0M1484.3,562.9h0M1485.1,566.8h0M1485.9,570.9h0M1486.6,575.0h0M1487.4,579.1h0M1488.2,581.8h0M1489.0,583.0h0M1489.8,584.3h0M1490.6,585.6h0M1491.3,586.8h0M1492.1,588.1h0M1492.9,589.4h0M1493.7,591.3h0M1494.5,593.8h0M1495.3,596.4h0M1496.0,599.0h0M1496.8,601.4h0M1497.6,603.6h0M1498.4,605.7h0M1499.2,607.8h0M1500.0,609.9h0M1500.7,614.5h0M1501.5,619.3h0M1502.3,624.0h0M1503.1,628.8h0M1503.9,632.7h0M1504.7,636.2h0M1505.5,639.8h0M1506.2,643.4h0M1507.0,647.8h0M1507.8,653.3h0M1508.6,658.9h0M1509.4,662.7h0M1510.2,665.4h0M1510.9,668.1h0M1511.7,670.8h0M1512.5,673.5h0M1513.3,676.2h0M1514.1,678.9h0M1514.9,680.4h0M1515.6,681.0h0M1516.4,681.7h0M1519.6,684.2h0M1520.3,684.9h0M1521.1,685.6h0M1521.9,687.7h0M1522.7,689.8h0M1523.5,691.9h0M1524.3,694.0h0M1525.1,694.7h0M1531.3,698.4h0M1532.1,699.5h0M1532.9,700.5h0M1533.7,701.5h0M1534.5,702.6h0M1535.2,703.6h0M1536.0,704.6h0M1536.8,705.9h0M1537.6,708.5h0M1538.4,711.2h0M1539.2,713.9h0M1539.9,716.5h0M1540.7,721.1h0M1541.5,725.9h0M1542.3,730.6h0M1543.1,735.4h0M1543.9,738.4h0M1544.7,740.7h0M1545.4,743.0h0M1546.2,745.3h0M1547.0,747.6h0M1547.8,750.0h0M1548.6,753.1h0M1549.4,756.3h0M1550.1,759.4h0M1550.9,762.6h0M1551.7,765.8h0M1552.5,768.9h0M1553.3,772.1h0M1554.1,776.8h0M1554.8,781.5h0M1555.6,786.2h0M1556.4,790.9h0M1557.2,795.7h0M1558.0,799.3h0M1558.8,802.2h0M1559.5,805.2h0M1560.3,808.1h0M1561.1,811.1h0M1561.9,814.0h0M1562.7,817.5h0M1563.5,821.4h0M1564.3,825.4h0M1565.0,829.4h0M1565.8,833.4h0M1566.6,836.5h0M1567.4,839.7h0M1568.2,842.8h0M1569.0,844.3h0M1569.7,845.4h0M1570.5,846.6h0M1571.3,847.7h0M1572.1,849.9h0M1572.9,853.1h0M1573.7,856.3h0M1574.4,859.4h0M1575.2,863.1h0M1576.0,867.8h0M1576.8,872.5h0M1577.6,876.7h0M1578.4,876.6h0M1587.0,873.5h0M1591.7,873.4h0M1592.5,875.0h0M1593.3,876.6h0M1594.0,878.5h0M1594.8,880.4h0M1595.6,882.3h0M1596.4,884.3h0M1601.9,882.3h0M1602.7,885.1h0M1603.5,887.9h0M1604.2,890.6h0M1605.0,893.3h0M1605.8,895.1h0M1606.6,896.8h0M1607.4,898.5h0M1608.2,900.2h0M1608.9,901.9h0M1609.7,903.6h0M1610.5,905.2h0M1611.3,906.8h0M1612.1,908.4h0M1612.9,909.9h0M1613.6,911.5h0M1614.4,913.1h0M1615.2,914.5h0M1616.0,915.7h0M1616.8,916.9h0M1617.6,918.0h0M1618.3,919.2h0M1619.1,920.4h0M1619.9,921.6h0M1620.7,922.9h0M1621.5,924.2h0M1622.3,925.5h0M1623.1,926.8h0M1623.8,928.1h0M1624.6,929.4h0M1625.4,930.7h0M1626.2,932.1h0M1627.0,933.5h0M1627.8,934.9h0M1628.5,936.3h0M1629.3,937.6h0M1630.1,938.4h0M1630.9,939.2h0M1631.7,940.0h0M1632.5,940.8h0M1633.2,942.8h0M1634.0,944.9h0M1634.8,947.0h0M1635.6,948.4h0M1636.4,949.6h0M1637.2,950.7h0M1637.9,951.9h0M1638.7,953.1h0M1639.5,954.3h0M1640.3,955.7h0M1641.1,957.5h0M1641.9,959.3h0M1642.7,960.9h0M1643.4,961.5h0M1644.2,962.1h0M1645.0,962.7h0M1645.8,963.3h0M1646.6,965.4h0M1647.4,967.5h0M1648.1,969.6h0M1648.9,970.6h0M1649.7,971.4h0M1650.5,972.2h0M1655.2,976.9h0M1656.0,976.6h0M1656.8,972.7h0M1657.5,968.8h0M1658.3,964.8h0M1659.1,960.2h0M1659.9,955.7h0M1660.7,951.1h0M1661.5,947.6h0M1662.3,948.1h0M1669.3,949.0h0M1670.1,947.4h0M1670.9,945.8h0M1671.7,944.2h0M1672.4,942.6h0M1681.1,943.5h0M1681.9,944.6h0M1682.6,945.7h0M1683.4,946.9h0M1684.2,948.5h0M1685.0,950.1h0M1685.8,951.6h0M1688.1,952.8h0M1688.9,953.2h0M1689.7,954.5h0M1690.5,956.3h0M1691.3,958.2h0M1692.0,959.3h0M1700.7,958.0h0M1701.5,957.4h0M1702.2,956.9h0M1703.0,954.6h0M1703.8,951.5h0M1704.6,948.3h0M1705.4,944.3h0M1706.2,939.2h0M1706.9,937.0h0M1707.7,935.5h0M1708.5,933.9h0" fill="none" stroke="#4a90e2" stroke-width="7.1" stroke-linecap="round"/>
<path d="M346.7,933.3h0M352.2,941.6h0M353.0,942.3h0M353.8,943.1h0M354.5,943.8h0M355.3,944.5h0M356.1,945.3h0M356.9,946.0h0M357.7,946.8h0M358.5,947.5h0M364.7,947.1h0M369.4,956.8h0M383.5,958.2h0M384.3,957.8h0M395.3,942.9h0M403.9,942.1h0M410.2,950.9h0M414.1,950.3h0M460.4,887.3h0M475.3,840.9h0M477.6,839.6h0M481.5,847.1h0M485.5,846.7h0M592.9,560.1h0M638.3,463.7h0M639.9,461.5h0M653.2,426.6h0M655.6,427.4h0M676.8,492.1h0M683.8,467.0h0M693.2,489.1h0M694.8,490.0h0M705.8,511.4h0M708.1,512.0h0M721.5,532.2h0M722.2,533.2h0M726.9,534.4h0M734.8,552.5h0M737.1,550.6h0M758.3,337.5h0M759.1,339.6h0M779.5,339.5h0M869.6,717.2h0M875.1,716.7h0M878.3,722.2h0M896.3,683.7h0M898.6,683.7h0M920.6,744.1h0M984.1,944.1h0M993.5,922.6h0M1026.4,854.0h0M1028.8,852.8h0M1164.4,848.9h0M1165.2,846.5h0M1166.0,844.1h0M1167.5,843.7h0M1168.3,843.6h0M1173.0,835.0h0M1175.4,835.7h0M1194.2,873.4h0M1195.0,872.5h0M1198.9,870.3h0M1206.0,884.1h0M1208.3,883.3h0M1226.3,816.5h0M1231.8,810.9h0M1300.8,784.7h0M1381.6,470.8h0M1391.0,480.7h0M1402.0,481.8h0M1410.6,467.8h0M1416.9,478.7h0M1430.2,427.3h0M1474.9,538.5h0M1476.4,539.2h0M1517.2,682.3h0M1518.0,683.0h0M1518.8,683.6h0M1525.8,695.0h0M1529.8,696.6h0M1530.5,697.4h0M1579.1,876.5h0M1586.2,874.4h0M1587.8,872.6h0M1590.9,871.8h0M1601.1,882.1h0M1651.3,973.0h0M1652.1,973.8h0M1652.8,974.5h0M1668.5,949.3h0M1673.2,942.3h0M1680.3,942.4h0M1686.6,952.1h0M1687.3,952.4h0M1692.8,959.6h0" fill="none" stroke="#4a90e2" stroke-width="7.5" stroke-linecap="round"/>
<path d="M359.2,948.2h0M376.5,958.0h0M377.3,958.5h0M382.0,958.9h0M382.8,958.5h0M396.1,942.5h0M403.1,941.9h0M454.1,885.4h0M456.5,886.9h0M457.2,887.7h0M459.6,888.4h0M482.3,847.0h0M484.7,846.8h0M599.1,576.6h0M654.0,426.8h0M675.2,494.5h0M694.0,489.5h0M706.6,511.6h0M707.3,511.8h0M723.0,534.1h0M723.8,534.4h0M761.4,344.0h0M777.1,345.4h0M874.3,715.5h0M880.6,722.7h0M981.0,945.9h0M982.5,945.0h0M983.3,944.5h0M994.3,922.9h0M995.1,923.2h0M1028.0,854.1h0M1086.8,664.0h0M1088.4,665.3h0M1159.7,847.0h0M1163.6,848.6h0M1187.9,876.1h0M1191.9,874.9h0M1192.6,874.6h0M1193.4,874.3h0M1196.6,870.7h0M1230.3,810.7h0M1233.4,813.9h0M1274.2,629.3h0M1382.4,470.4h0M1385.5,469.6h0M1400.4,480.4h0M1401.2,481.1h0M1402.7,482.5h0M1404.3,483.9h0M1416.1,479.7h0M1432.5,425.6h0M1445.1,461.0h0M1446.7,463.2h0M1452.1,444.6h0M1475.7,538.8h0M1526.6,695.3h0M1528.2,696.0h0M1529.0,696.3h0M1584.6,875.8h0M1585.4,875.3h0M1588.6,871.7h0M1590.1,870.3h0M1597.2,884.7h0M1653.6,975.3h0M1667.7,949.5h0M1674.0,942.1h0M1679.5,941.2h0M1693.6,959.8h0M1698.3,959.7h0M1699.1,959.1h0M1699.9,958.5h0" fill="none" stroke="#4a90e2" stroke-width="7.9" stroke-linecap="round"/>
<path d="M360.0,949.0h0M361.6,949.4h0M362.4,948.5h0M363.9,946.7h0M370.2,956.9h0M374.1,957.2h0M374.9,957.3h0M375.7,957.4h0M378.1,959.0h0M378.8,959.6h0M381.2,959.2h0M396.9,942.1h0M397.7,941.7h0M398.4,941.3h0M401.6,941.6h0M402.4,941.8h0M411.0,951.4h0M412.6,951.8h0M413.3,951.1h0M422.7,981.6h0M455.7,886.1h0M458.0,888.4h0M458.8,889.2h0M476.1,840.1h0M476.8,839.4h0M483.9,846.8h0M592.1,561.9h0M599.9,577.0h0M632.9,444.5h0M654.8,427.1h0M676.0,493.3h0M684.6,465.3h0M724.6,534.4h0M726.2,534.4h0M735.6,552.7h0M736.3,551.6h0M780.3,337.4h0M870.4,716.9h0M871.2,716.6h0M872.0,716.3h0M873.5,715.8h0M879.0,723.6h0M897.9,682.3h0M919.0,743.8h0M919.8,743.9h0M981.7,945.4h0M1027.2,854.2h0M1147.2,897.4h0M1160.5,847.3h0M1161.3,847.7h0M1162.1,848.0h0M1162.8,848.3h0M1173.8,833.3h0M1174.6,834.5h0M1188.7,875.9h0M1189.5,875.6h0M1190.3,875.4h0M1191.1,875.1h0M1198.1,869.0h0M1206.7,885.4h0M1207.5,884.4h0M1234.2,816.0h0M1383.1,470.0h0M1383.9,469.6h0M1391.8,480.4h0M1392.6,480.1h0M1393.3,479.8h0M1394.1,479.5h0M1398.0,479.8h0M1398.8,479.9h0M1399.6,480.0h0M1411.4,468.2h0M1431.0,426.4h0M1527.4,695.6h0M1583.1,876.0h0M1583.9,875.9h0M1598.7,883.6h0M1599.5,883.1h0M1600.3,882.6h0M1654.4,976.1h0M1663.0,948.7h0M1663.8,949.2h0M1664.6,949.7h0M1665.4,949.9h0M1667.0,949.6h0M1674.8,941.9h0M1675.6,941.7h0M1676.4,941.5h0M1677.9,941.1h0M1678.7,940.9h0M1694.4,960.1h0M1696.7,960.8h0M1697.5,960.2h0" fill="none" stroke="#4a90e2" stroke-width="8.3" stroke-linecap="round"/>
<path d="M360.8,949.7h0M363.2,947.6h0M371.0,956.9h0M371.8,957.0h0M372.6,957.1h0M373.4,957.1h0M379.6,959.9h0M380.4,959.6h0M399.2,941.2h0M400.0,941.3h0M400.8,941.5h0M411.8,951.9h0M454.9,885.4h0M483.1,846.9h0M639.1,462.6h0M725.4,534.4h0M768.5,311.2h0M776.3,344.3h0M872.8,716.1h0M879.8,723.9h0M897.1,682.9h0M1087.6,664.0h0M1197.3,869.9h0M1231.1,810.8h0M1384.7,469.3h0M1394.9,479.5h0M1395.7,479.5h0M1396.5,479.6h0M1397.3,479.7h0M1403.5,483.2h0M1431.8,425.5h0M1445.9,462.1h0M1579.9,876.4h0M1580.7,876.3h0M1581.5,876.2h0M1582.3,876.1h0M1589.3,870.8h0M1598.0,884.2h0M1666.2,949.8h0M1677.1,941.3h0M1695.2,960.3h0M1696.0,960.6h0" fill="none" stroke="#4a90e2" stroke-width="8.7" stroke-linecap="round"/>
</svg></body></html>
